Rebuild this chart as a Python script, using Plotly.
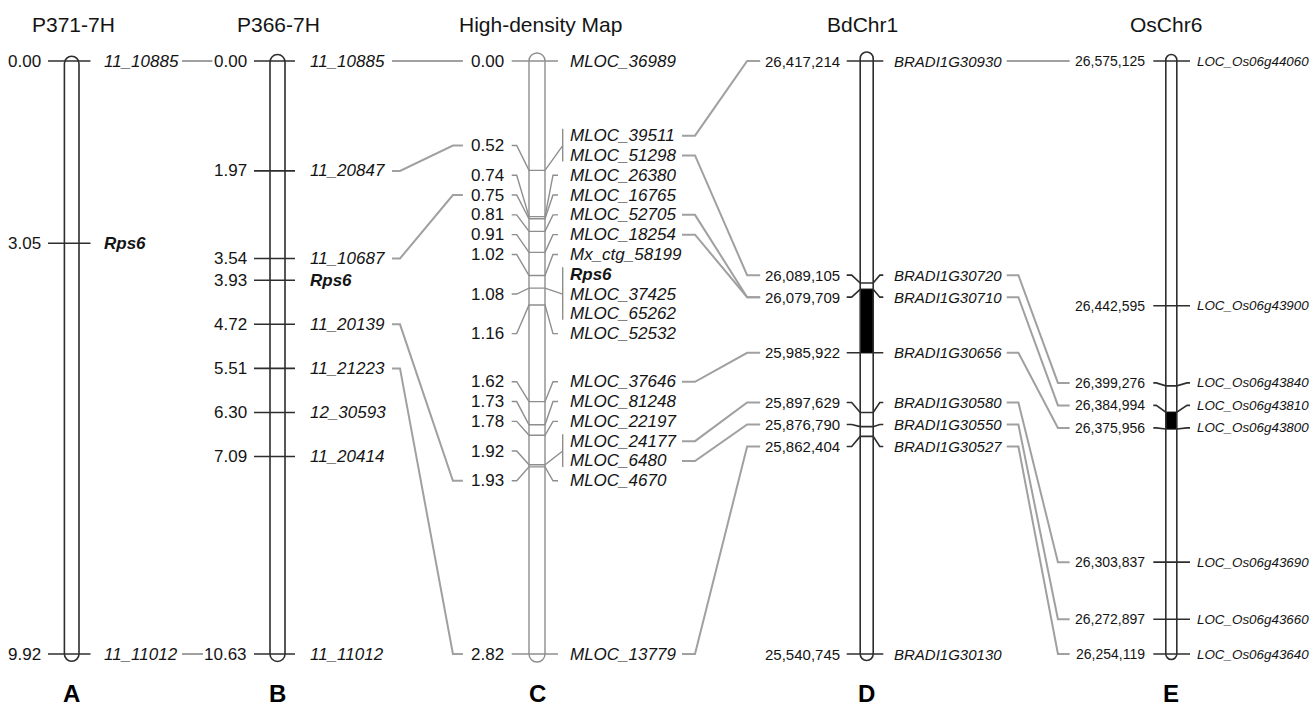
import plotly.graph_objects as go

# ---------------- data ----------------
map_titles = ["P371-7H", "P366-7H", "High-density Map", "BdChr1", "OsChr6"]
panel_letters = ["A", "B", "C", "D", "E"]

a_markers = ["11_10885", "Rps6", "11_11012"]
a_pos = [0.00, 3.05, 9.92]

b_markers = ["11_10885", "11_20847", "11_10687", "Rps6", "11_20139",
             "11_21223", "12_30593", "11_20414", "11_11012"]
b_pos = [0.00, 1.97, 3.54, 3.93, 4.72, 5.51, 6.30, 7.09, 10.63]

c_markers = ["MLOC_36989", "MLOC_39511", "MLOC_51298", "MLOC_26380", "MLOC_16765",
             "MLOC_52705", "MLOC_18254", "Mx_ctg_58199", "Rps6", "MLOC_37425",
             "MLOC_65262", "MLOC_52532", "MLOC_37646", "MLOC_81248", "MLOC_22197",
             "MLOC_24177", "MLOC_6480", "MLOC_4670", "MLOC_13779"]
c_pos = [0.00, 0.52, 0.52, 0.74, 0.75, 0.81, 0.91, 1.02, 1.08, 1.08,
         1.08, 1.16, 1.62, 1.73, 1.78, 1.92, 1.92, 1.93, 2.82]

d_markers = ["BRADI1G30930", "BRADI1G30720", "BRADI1G30710", "BRADI1G30656",
             "BRADI1G30580", "BRADI1G30550", "BRADI1G30527", "BRADI1G30130"]
d_pos = [26417214, 26089105, 26079709, 25985922, 25897629, 25876790, 25862404, 25540745]
d_block = [26079709, 25985922]

e_markers = ["LOC_Os06g44060", "LOC_Os06g43900", "LOC_Os06g43840", "LOC_Os06g43810",
             "LOC_Os06g43800", "LOC_Os06g43690", "LOC_Os06g43660", "LOC_Os06g43640"]
e_pos = [26575125, 26442595, 26399276, 26384994, 26375956, 26303837, 26272897, 26254119]
e_block = [26384994, 26375956]

links_ab = [("11_10885", "11_10885"), ("11_11012", "11_11012")]
links_bc = [("11_10885", "MLOC_36989"), ("11_20847", "MLOC_39511"),
            ("11_10687", "MLOC_16765"), ("11_20139", "MLOC_4670"),
            ("11_21223", "MLOC_13779")]
links_cd = [("MLOC_39511", "BRADI1G30930"), ("MLOC_51298", "BRADI1G30720"),
            ("MLOC_52705", "BRADI1G30710"), ("MLOC_18254", "BRADI1G30710"),
            ("MLOC_37646", "BRADI1G30656"), ("MLOC_24177", "BRADI1G30580"),
            ("MLOC_6480", "BRADI1G30550"), ("MLOC_13779", "BRADI1G30527")]
links_de = [("BRADI1G30930", "LOC_Os06g44060"), ("BRADI1G30720", "LOC_Os06g43840"),
            ("BRADI1G30710", "LOC_Os06g43810"), ("BRADI1G30656", "LOC_Os06g43800"),
            ("BRADI1G30580", "LOC_Os06g43690"), ("BRADI1G30550", "LOC_Os06g43660"),
            ("BRADI1G30527", "LOC_Os06g43640")]

# ---------------- layout / style ----------------
FIG_W, FIG_H = 1313, 709
TOP_PX, BOT_PX = 61, 654
SPAN = BOT_PX - TOP_PX
DARK = "#2e2e2e"
GRAY = "#8e8e8e"
LINK = "#a0a0a0"
TEXT = "#141414"
FONT = "Liberation Sans, Arial, sans-serif"


def to_f(px):
    return (px - TOP_PX) / SPAN


maps = [
    dict(markers=a_markers, pos=a_pos, block=None, kind="cM", cx=71.7, hw=7.3, cap=2.5,
         tl=48, tr=90.5, vx=43, nx=101.5, hl=4, hr=4, fs=17, nfs=17, gap=19.8, bias=0,
         color=DARK, lw=1.6, bx=None, tx=73),
    dict(markers=b_markers, pos=b_pos, block=None, kind="cM", cx=277.5, hw=7.5, cap=1,
         tl=254, tr=295, vx=249, nx=308, hl=4, hr=4, fs=17, nfs=17, gap=19.8, bias=0,
         color=DARK, lw=1.6, bx=None, tx=278.7),
    dict(markers=c_markers, pos=c_pos, block=None, kind="cM", cx=537, hw=8, cap=0,
         tl=511.7, tr=558, vx=506, nx=567.7, hl=5, hr=5, fs=17, nfs=17, gap=19.8, bias=-3,
         color=GRAY, lw=1.4, bx=562.7, tx=540),
    dict(markers=d_markers, pos=d_pos, block=d_block, kind="bp", cx=866.7, hw=6.5, cap=-2.5,
         tl=846.7, tr=883.3, vx=841.7, nx=891.7, hl=5, hr=3.5, fs=15, nfs=15, gap=22, bias=0,
         color=DARK, lw=1.6, bx=None, tx=862.5),
    dict(markers=e_markers, pos=e_pos, block=e_block, kind="bp", cx=1171.3, hw=5.5, cap=-1,
         tl=1153.3, tr=1190, vx=1146.7, nx=1195, hl=3, hr=3, fs=14, nfs=13.4, gap=22.5, bias=-2,
         color=DARK, lw=1.6, bx=None, tx=1165.5),
]

link_sets = [links_ab, links_bc, links_cd, links_de]
link_cols = [dict(x0=182, h0=6, gap=3.5, h1=6),
             dict(x0=392, h0=8, gap=10, h1=10),
             dict(x0=682, h0=13, gap=6.5, h1=13),
             dict(x0=1006.7, h0=11.7, gap=7, h1=11.7)]


def spread(targets, gap, bias):
    def place(cl):
        lo, hi = targets[cl[0]], targets[cl[-1]]
        n = len(cl)
        c = (lo + hi) / 2 + (bias if n > 1 else 0)
        return [c + (k - (n - 1) / 2) * gap for k in range(n)]
    clusters = []
    for i in range(len(targets)):
        clusters.append([i])
        while len(clusters) > 1:
            a, b = clusters[-2], clusters[-1]
            if place(a)[-1] + gap > place(b)[0] + 1e-12:
                clusters[-2:] = [a + b]
            else:
                break
    rows = [0.0] * len(targets)
    for cl in clusters:
        for i, y in zip(cl, place(cl)):
            rows[i] = y
    return rows


def fmt_val(v, kind):
    return f"{v:.2f}" if kind == "cM" else f"{v:,}"


def num_width(s, fs):
    return sum(0.278 if ch in ".," else 0.556 for ch in s) * fs


# compute label layout
for m in maps:
    top, bot = m["pos"][0], m["pos"][-1]
    m["f"] = lambda v, top=top, bot=bot: (v - top) / (bot - top)
    m["true"] = [m["f"](v) for v in m["pos"]]
    m["rows"] = spread(m["true"], m["gap"] / SPAN, m["bias"] / SPAN)
    groups = []
    for i, v in enumerate(m["pos"]):
        if groups and groups[-1]["value"] == v:
            groups[-1]["idx"].append(i)
        else:
            groups.append(dict(value=v, idx=[i]))
    for g in groups:
        g["cy"] = sum(m["rows"][i] for i in g["idx"]) / len(g["idx"])
        g["t"] = m["true"][g["idx"][0]]
    m["groups"] = groups
    m["group_of"] = {m["markers"][i]: g for g in groups for i in g["idx"]}
    m["row_of"] = {name: m["rows"][i] for i, name in enumerate(m["markers"])}

fig = go.Figure()
shapes = []
annotations = []

for mi, m in enumerate(maps):
    cx, hw = m["cx"], m["hw"]
    xl, xr = cx - hw, cx + hw
    xs, ys = [], []
    for g in m["groups"]:
        t, cy = g["t"], g["cy"]
        px = [m["tl"], m["tl"] + m["hl"], xl, xr]
        py = [cy, cy, t, t]
        if len(g["idx"]) > 1 and m["bx"] is not None:
            px += [m["bx"]]
            py += [cy]
            r0 = m["rows"][g["idx"][0]]
            r1 = m["rows"][g["idx"][-1]]
            xs += [m["bx"], m["bx"], None]
            ys += [r0 - 7 / SPAN, r1 + 6 / SPAN, None]
        else:
            px += [m["tr"] - m["hr"], m["tr"]]
            py += [cy, cy]
        xs += px + [None]
        ys += py + [None]
        annotations.append(dict(
            x=m["vx"], y=cy, xref="x", yref="y", text=fmt_val(g["value"], m["kind"]),
            xanchor="right", yanchor="middle", showarrow=False,
            font=dict(family=FONT, size=m["fs"], color=TEXT)))
    fig.add_trace(go.Scatter(x=xs, y=ys, mode="lines", hoverinfo="skip", showlegend=False,
                             line=dict(color=m["color"], width=m["lw"])))
    for i, name in enumerate(m["markers"]):
        txt = f"<b><i>{name}</i></b>" if name == "Rps6" else f"<i>{name}</i>"
        annotations.append(dict(
            x=m["nx"], y=m["rows"][i], xref="x", yref="y", text=txt,
            xanchor="left", yanchor="middle", showarrow=False,
            font=dict(family=FONT, size=m["nfs"], color=TEXT)))

    # black block
    if m["block"] is not None:
        shapes.append(dict(type="rect", xref="x", yref="y", x0=xl, x1=xr,
                           y0=m["f"](m["block"][0]), y1=m["f"](m["block"][1]),
                           fillcolor="black", line=dict(width=0), layer="above"))
    # chromosome outline
    k = 0.5523
    r = hw / SPAN
    y0 = 0 + m["cap"] / SPAN
    y1 = 1.0
    path = (f"M{xl},{y1} L{xl},{y0} "
            f"C{xl},{y0 - k * r} {cx - k * hw},{y0 - r} {cx},{y0 - r} "
            f"C{cx + k * hw},{y0 - r} {xr},{y0 - k * r} {xr},{y0} "
            f"L{xr},{y1} "
            f"C{xr},{y1 + k * r} {cx + k * hw},{y1 + r} {cx},{y1 + r} "
            f"C{cx - k * hw},{y1 + r} {xl},{y1 + k * r} {xl},{y1} Z")
    shapes.append(dict(type="path", xref="x", yref="y", path=path,
                       line=dict(color=m["color"], width=m["lw"]),
                       fillcolor="rgba(0,0,0,0)", layer="above"))

    # title and panel letter
    annotations.append(dict(x=m["tx"], y=1 - 25 / FIG_H, xref="x", yref="paper",
                            text=map_titles[mi], showarrow=False, xanchor="center",
                            yanchor="middle", font=dict(family=FONT, size=21, color=TEXT)))
    annotations.append(dict(x=cx, y=1 - 693 / FIG_H, xref="x", yref="paper",
                            text=f"<b>{panel_letters[mi]}</b>", showarrow=False,
                            xanchor="center", yanchor="middle",
                            font=dict(family=FONT, size=24, color="#000000")))

# connectors between maps
lx, ly = [], []
for si, links in enumerate(link_sets):
    src, dst = maps[si], maps[si + 1]
    col = link_cols[si]
    for s_name, d_name in links:
        y0 = src["row_of"][s_name]
        g = dst["group_of"][d_name]
        y1 = g["cy"]
        lbl = fmt_val(g["value"], dst["kind"])
        x1 = dst["vx"] - num_width(lbl, dst["fs"]) - col["gap"]
        x0 = col["x0"]
        lx += [x0, x0 + col["h0"], x1 - col["h1"], x1, None]
        ly += [y0, y0, y1, y1, None]
fig.add_trace(go.Scatter(x=lx, y=ly, mode="lines", hoverinfo="skip", showlegend=False,
                         line=dict(color=LINK, width=2)))

fig.update_layout(
    width=FIG_W, height=FIG_H,
    margin=dict(l=0, r=0, t=0, b=0),
    paper_bgcolor="white", plot_bgcolor="white",
    xaxis=dict(range=[0, FIG_W], visible=False, showgrid=False, zeroline=False, fixedrange=True),
    yaxis=dict(range=[to_f(FIG_H), to_f(0)], visible=False, showgrid=False, zeroline=False,
               fixedrange=True),
    shapes=shapes, annotations=annotations, showlegend=False,
)

fig.write_html("out.html", config={"displayModeBar": False},
               post_script="document.body.style.margin='0';document.body.style.overflow='hidden';")
